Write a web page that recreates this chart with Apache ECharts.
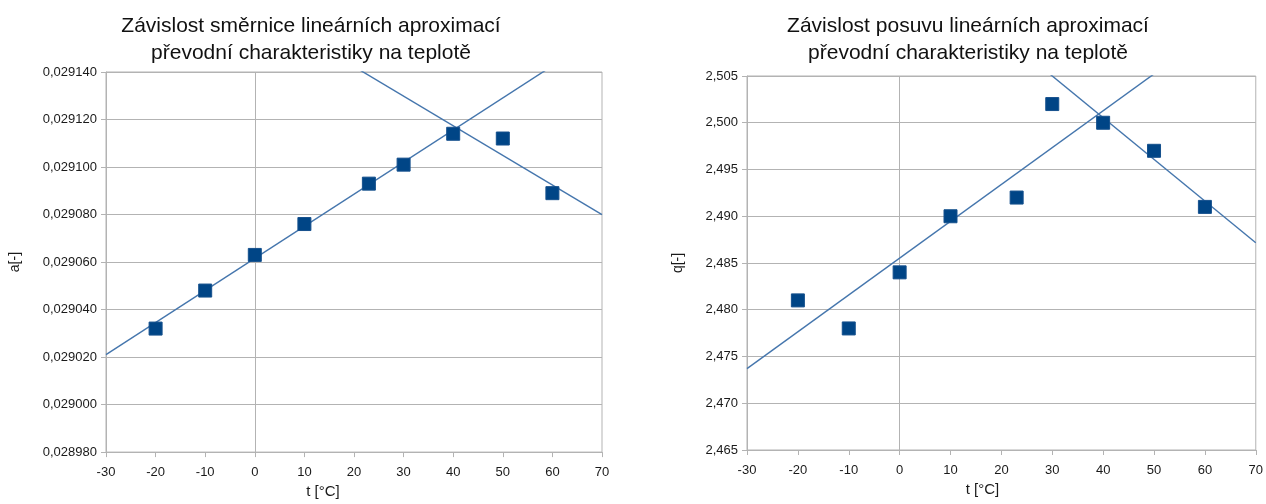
<!DOCTYPE html>
<html>
<head>
<meta charset="utf-8">
<script src="https://cdn.jsdelivr.net/npm/echarts@6/dist/echarts.min.js"></script>
<style>
  html, body { margin: 0; padding: 0; background: #fff; }
  #chart { width: 1266px; height: 504px; }
</style>
</head>
<body>
<div id="chart"></div>
<script>
// Measured temperatures [°C]
const temperatures = [-20, -10, 0, 10, 23, 30, 40, 50, 60];

// Slope a of the linear approximations at each temperature
const slopeA = [0.029032, 0.029048, 0.029063, 0.029076, 0.029093, 0.029101, 0.029114, 0.029112, 0.029089];

// Offset q of the linear approximations at each temperature
const offsetQ = [2.481, 2.478, 2.484, 2.490, 2.492, 2.502, 2.500, 2.497, 2.491];

// Trend lines (end points at t = -30 and t = 70)
const slopeTrendRise = [[-30, 0.029021], [70, 0.0291561]];
const slopeTrendFall = [[-30, 0.0292046], [70, 0.029080]];
const offsetTrendRise = [[-30, 2.4737], [70, 2.5131]];
const offsetTrendFall = [[-30, 2.53176], [70, 2.48716]];

// Axis ranges
const tempAxis = { min: -30, max: 70, interval: 10 };
const slopeAxis = { min: 0.02898, max: 0.02914, interval: 0.00002 };
const offsetAxis = { min: 2.465, max: 2.505, interval: 0.005 };

const titles = [
  'Závislost směrnice lineárních aproximací\npřevodní charakteristiky na teplotě',
  'Závislost posuvu lineárních aproximací\npřevodní charakteristiky na teplotě'
];

const GRID_GRAY = '#b3b3b3';
const MARK_BLUE = '#004586';
const LINE_BLUE = '#4576ad';
const TEXT = '#1a1a1a';

const pairs = (xs, ys) => xs.map((x, i) => [x, ys[i]]);
const commaFmt = d => v => v.toFixed(d).replace('.', ',');

function xAxisFor(gridIndex, namePad) {
  return {
    type: 'value', gridIndex,
    min: tempAxis.min, max: tempAxis.max, interval: tempAxis.interval,
    name: 't [°C]', nameLocation: 'middle', nameGap: 27,
    nameTextStyle: { fontFamily: 'Liberation Sans, Arial', fontSize: 15, color: TEXT, padding: namePad },
    axisLine: { show: true, onZero: false, lineStyle: { color: GRID_GRAY, width: 1 } },
    axisTick: { show: true, length: 5, lineStyle: { color: GRID_GRAY } },
    axisLabel: { fontFamily: 'Liberation Sans, Arial', fontSize: 13, color: TEXT, margin: 14 },
    splitLine: { show: false }
  };
}

function yAxisFor(gridIndex, range, decimals, name, gap) {
  return {
    type: 'value', gridIndex,
    min: range.min, max: range.max, interval: range.interval,
    name, nameLocation: 'middle', nameGap: gap, nameRotate: 90,
    nameTextStyle: { fontFamily: 'Liberation Sans, Arial', fontSize: 14, color: TEXT },
    axisLine: { show: true, onZero: false, lineStyle: { color: GRID_GRAY, width: 1 } },
    axisTick: { show: true, length: 5, lineStyle: { color: GRID_GRAY } },
    axisLabel: { fontFamily: 'Liberation Sans, Arial', fontSize: 13, color: TEXT, margin: 9, formatter: commaFmt(decimals) },
    splitLine: { show: true, lineStyle: { color: GRID_GRAY, width: 1 } }
  };
}

function trend(idx, data) {
  return {
    type: 'line', xAxisIndex: idx, yAxisIndex: idx, data,
    showSymbol: false, symbol: 'none', silent: true, clip: true, z: 3,
    lineStyle: { color: LINE_BLUE, width: 1.4 }
  };
}

function points(idx, data) {
  return {
    type: 'scatter', xAxisIndex: idx, yAxisIndex: idx, data,
    symbol: 'rect', symbolSize: 13, z: 4,
    itemStyle: { color: MARK_BLUE, opacity: 1, borderColor: '#15508d', borderWidth: 1 },
    markLine: {
      silent: true, symbol: 'none', z: 1,
      label: { show: false },
      lineStyle: { color: GRID_GRAY, type: 'solid', width: 1 },
      data: [{ xAxis: 0 }]
    }
  };
}

const titleStyle = {
  fontFamily: "'Liberation Sans', Arial",
  fontSize: 21, fontWeight: 'normal', color: '#111', lineHeight: 27
};

const option = {
  animation: false,
  backgroundColor: '#ffffff',
  title: [
    { text: titles[0], left: 306, top: 8, textAlign: 'center', textStyle: titleStyle },
    { text: titles[1], left: 963, top: 8, textAlign: 'center', textStyle: titleStyle }
  ],
  grid: [
    { left: 106, top: 72, width: 496, height: 383, show: true, borderColor: GRID_GRAY, borderWidth: 1, containLabel: false },
    { left: 747, top: 76, width: 510, height: 374, show: true, borderColor: GRID_GRAY, borderWidth: 1, containLabel: false }
  ],
  xAxis: [xAxisFor(0, [0, 62, 0, 0]), xAxisFor(1, [0, 38, 0, 0])],
  yAxis: [
    yAxisFor(0, slopeAxis, 6, 'a[-]', 84),
    yAxisFor(1, offsetAxis, 3, 'q[-]', 62)
  ],
  series: [
    trend(0, slopeTrendRise),
    trend(0, slopeTrendFall),
    points(0, pairs(temperatures, slopeA)),
    trend(1, offsetTrendRise),
    trend(1, offsetTrendFall),
    points(1, pairs(temperatures, offsetQ))
  ]
};

const chart = echarts.init(document.getElementById('chart'), null, { renderer: 'canvas' });
chart.setOption(option);
</script>
</body>
</html>
